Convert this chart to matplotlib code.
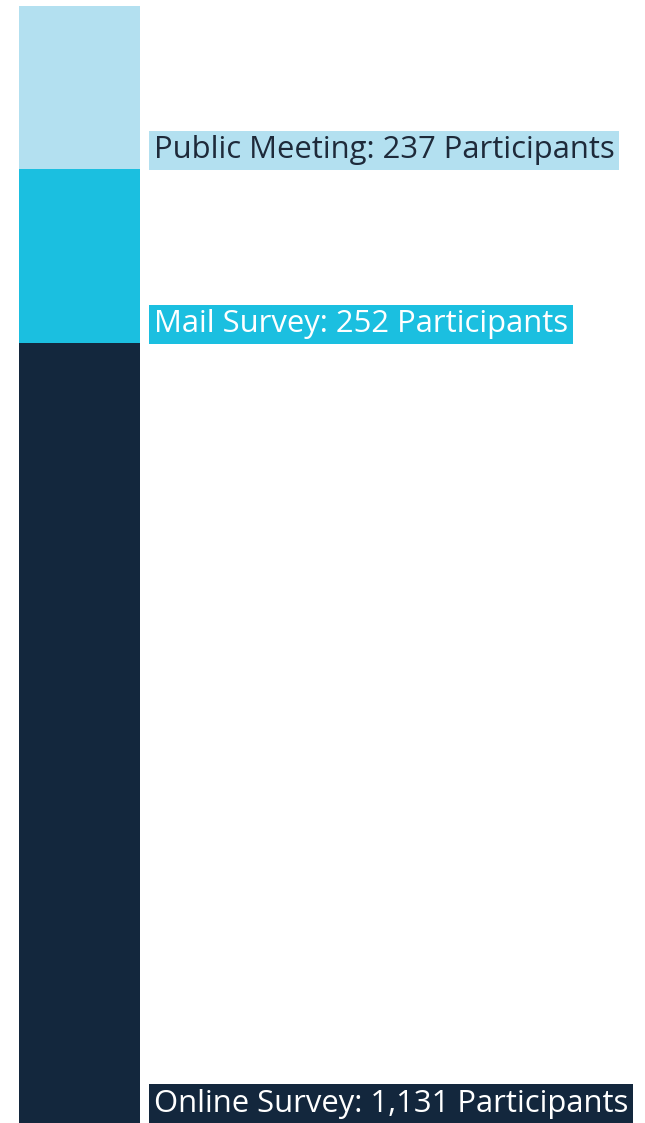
import matplotlib
matplotlib.use("Agg")
import matplotlib.pyplot as plt

categories = ["Online Survey", "Mail Survey", "Public Meeting"]
values = [1131, 252, 237]
colors = ["#13273D", "#1BBFE0", "#B3E0F0"]
text_colors = ["#FFFFFF", "#FFFFFF", "#1E2A3A"]

W, H = 645, 1123
fig = plt.figure(figsize=(W / 100, H / 100), dpi=100)
ax = fig.add_axes([19 / W, 0, 121 / W, (H - 6) / H])
ax.set_xlim(-0.5, 0.5)
total = sum(values)
ax.set_ylim(0, total)
ax.axis("off")

bottom = 0
for cat, v, c, tc in zip(categories, values, colors, text_colors):
    ax.bar(0, v, width=1.0, bottom=bottom, color=c, linewidth=0)
    label = f"{cat}: {v:,} Participants"
    ax.annotate(label, xy=(0.5, bottom), xytext=(14, 4), textcoords="offset pixels",
                ha="left", va="bottom", fontsize=22.3, family="Open Sans", color=tc,
                annotation_clip=False,
                bbox=dict(boxstyle="square,pad=0.15", facecolor=c, edgecolor="none"))
    bottom += v

fig.savefig("out.png", dpi=100)
